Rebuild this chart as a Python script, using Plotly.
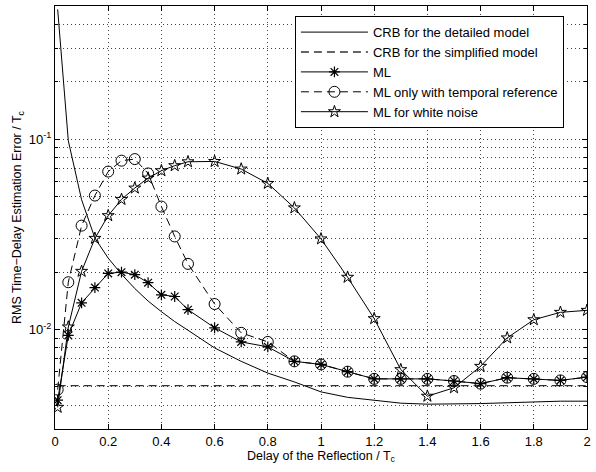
import plotly.graph_objects as go

delay = [0.01, 0.05, 0.1, 0.15, 0.2, 0.25, 0.3, 0.35, 0.4, 0.45, 0.5, 0.6, 0.7,
         0.8, 0.9, 1.0, 1.1, 1.2, 1.3, 1.4, 1.5, 1.6, 1.7, 1.8, 1.9, 2.0]

crb_detailed = [0.48, 0.098, 0.048, 0.0302, 0.0237, 0.0195, 0.0164, 0.0141, 0.0124,
                0.0110, 0.0099, 0.0080, 0.0068, 0.0059, 0.0053, 0.0047, 0.0044,
                0.00425, 0.0041, 0.00405, 0.00405, 0.00408, 0.00412, 0.00416,
                0.0042, 0.0042]

crb_simplified = [0.00507] * len(delay)

ml = [0.00425, 0.0093, 0.0138, 0.0166, 0.0197, 0.0200, 0.0194, 0.0176, 0.0152,
      0.0149, 0.0127, 0.0102, 0.0086, 0.0081, 0.0068, 0.00655, 0.0060, 0.0055,
      0.0055, 0.0055, 0.00536, 0.00519, 0.00558, 0.0055, 0.0054, 0.00562]

ml_temporal = [0.00483, 0.0177, 0.0351, 0.0505, 0.0675, 0.077, 0.0785, 0.066,
               0.0442, 0.0308, 0.0221, 0.0136, 0.0096, 0.0086, 0.0068, 0.00655,
               0.0060, 0.0055, 0.0055, 0.0055, 0.00536, 0.00519, 0.00558, 0.0055,
               0.0054, 0.00562]

ml_white = [0.0039, 0.0103, 0.0202, 0.0301, 0.0396, 0.0482, 0.0553, 0.0624,
            0.0682, 0.0725, 0.076, 0.0763, 0.0696, 0.0585, 0.0435, 0.0299, 0.0188,
            0.0114, 0.00615, 0.00446, 0.00494, 0.0064, 0.00903, 0.01125, 0.0123,
            0.0126]

x_ticks = [0, 0.2, 0.4, 0.6, 0.8, 1.0, 1.2, 1.4, 1.6, 1.8, 2.0]
y_major = [0.01, 0.1]
y_major_text = ["10<sup>-2</sup>", "10<sup>-1</sup>"]
y_minor = [0.003, 0.004, 0.005, 0.006, 0.007, 0.008, 0.009,
           0.02, 0.03, 0.04, 0.05, 0.06, 0.07, 0.08, 0.09,
           0.2, 0.3, 0.4, 0.5]

FONT = "Liberation Sans, Arial, Helvetica, sans-serif"
DASH = "8px,5px"
GRID = "1px,3px"

fig = go.Figure()
fig.add_trace(go.Scatter(x=delay, y=crb_detailed, mode="lines",
                         name="CRB for the detailed model",
                         line=dict(color="black", width=1)))
fig.add_trace(go.Scatter(x=delay, y=crb_simplified, mode="lines",
                         name="CRB for the simplified model",
                         line=dict(color="#333", width=1.3, dash=DASH)))
fig.add_trace(go.Scatter(x=delay, y=ml, mode="lines+markers", name="ML",
                         line=dict(color="black", width=1),
                         marker=dict(symbol="asterisk-open", size=9,
                                     line=dict(color="black", width=1.2))))
fig.add_trace(go.Scatter(x=delay, y=ml_temporal, mode="lines+markers",
                         name="ML only with temporal reference",
                         line=dict(color="black", width=1, dash=DASH),
                         marker=dict(symbol="circle-open", size=11, color="black",
                                     line=dict(color="black", width=1))))
fig.add_trace(go.Scatter(x=delay, y=ml_white, mode="lines+markers",
                         name="ML for white noise",
                         line=dict(color="black", width=1),
                         marker=dict(symbol="star-open", size=9, color="black",
                                     line=dict(color="black", width=1))))

fig.update_layout(
    width=596, height=472,
    margin=dict(l=55, r=5, t=5, b=43),
    paper_bgcolor="white", plot_bgcolor="white",
    font=dict(family=FONT, size=12, color="black"),
    showlegend=True,
    legend=dict(x=0.451, y=0.976, xanchor="left", yanchor="top",
                bgcolor="white", bordercolor="black", borderwidth=1,
                font=dict(size=13), itemwidth=67, tracegroupgap=0),
    xaxis=dict(range=[0, 2], tickmode="array", tickvals=x_ticks,
               ticks="inside", ticklen=5, tickcolor="black",
               showline=True, linecolor="black", linewidth=1, mirror="allticks",
               showgrid=True, gridcolor="#444", griddash=GRID, gridwidth=1,
               zeroline=False,
               title=dict(text="Delay of the Reflection / T<sub>c</sub>",
                          standoff=2, font=dict(size=12.5)),
               tickfont=dict(size=13)),
    yaxis=dict(type="log", range=[-2.5229, -0.30103], tickmode="array",
               tickvals=y_major, ticktext=y_major_text,
               ticks="inside", ticklen=5, tickcolor="black",
               showline=True, linecolor="black", linewidth=1, mirror="allticks",
               showgrid=True, gridcolor="#444", griddash=GRID, gridwidth=1,
               zeroline=False,
               minor=dict(tickmode="array", tickvals=y_minor, ticks="inside",
                          ticklen=3, tickcolor="black", showgrid=True,
                          gridcolor="#444", griddash=GRID, gridwidth=1),
               title=dict(text="RMS Time−Delay Estimation Error / T<sub>c</sub>",
                          standoff=4, font=dict(size=12.5)),
               tickfont=dict(size=13)),
)

fig.write_html("out.html")
